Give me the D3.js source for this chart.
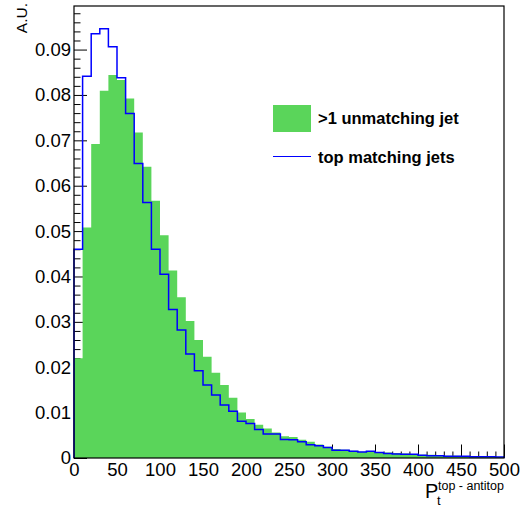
<!DOCTYPE html>
<html>
<head>
<meta charset="utf-8">
<script src="https://cdn.jsdelivr.net/npm/d3@7"></script>
<style>
  html, body { margin: 0; padding: 0; background: #fff; }
  svg { display: block; }
  text { font-family: "Liberation Sans", Arial, Helvetica, sans-serif; fill: #000; }
</style>
</head>
<body>
<svg id="chart" width="520" height="508"></svg>
<script>
// ---- data ----
const binEdges = d3.range(0, 501, 10); // 0..500, 50 bins of width 10

const unmatchingJet = [
  0.0220, 0.0508, 0.0692, 0.0809, 0.0844, 0.0833, 0.0792, 0.0717, 0.0642, 0.0567,
  0.0491, 0.0413, 0.0354, 0.0302, 0.0260, 0.0223, 0.0188, 0.0161, 0.0133, 0.0100,
  0.0086, 0.0073, 0.0065, 0.0056, 0.0048, 0.0046, 0.0040, 0.0036, 0.0030, 0.0025,
  0.0020, 0.0018, 0.0016, 0.0014, 0.0013, 0.0013, 0.0012, 0.0011, 0.0010, 0.0009,
  0.0007, 0.0007, 0.0006, 0.0005, 0.0005, 0.0004, 0.0004, 0.0003, 0.0003, 0.0003
];

const topMatching = [
  0.0460, 0.0841, 0.0935, 0.0946, 0.0906, 0.0838, 0.0759, 0.0649, 0.0563, 0.0460,
  0.0405, 0.0327, 0.0282, 0.0229, 0.0192, 0.0161, 0.0139, 0.0117, 0.0103, 0.0081,
  0.0076, 0.0063, 0.0053, 0.0053, 0.0041, 0.0040, 0.0036, 0.0029, 0.0027, 0.0023,
  0.0017, 0.0017, 0.0015, 0.0013, 0.0015, 0.0012, 0.0010, 0.0009, 0.0008, 0.0008,
  0.0006, 0.0005, 0.0005, 0.0004, 0.0004, 0.0004, 0.0003, 0.0003, 0.0003, 0.0002
];

const yMajorTicks = [0, 0.01, 0.02, 0.03, 0.04, 0.05, 0.06, 0.07, 0.08, 0.09];
const yTickLabels = ["0", "0.01", "0.02", "0.03", "0.04", "0.05", "0.06", "0.07", "0.08", "0.09"];
const xMajorTicks = [0, 50, 100, 150, 200, 250, 300, 350, 400, 450, 500];
const xTickLabels = ["0", "50", "100", "150", "200", "250", "300", "350", "400", "450", "500"];

const legendLabels = [">1 unmatching jet", "top matching jets"];
const yTitle = "A.U.";
const xTitleMain = "P", xTitleSub = "t", xTitleSup = "top - antitop";

// ---- layout ----
const mLeft = 74, mRight = 504, mTop = 6, mBottom = 458;
const greenFill = "#5ad55a";
const blueLine = "#0000ff";

const svg = d3.select("#chart");
const x = d3.scaleLinear().domain([0, 500]).range([mLeft, mRight]);
const y = d3.scaleLinear().domain([0, 0.0996]).range([mBottom, mTop]);

const yMinor = d3.range(0, 0.0995, 0.002).filter(v => !yMajorTicks.some(m => Math.abs(m - v) < 1e-9));
const xMinor = d3.range(0, 501, 10).filter(v => v % 50 !== 0);

function tickLines(g) {
  g.select(".domain").remove();
  g.selectAll(".tick line").attr("stroke", "#000").attr("stroke-width", 1);
}

// ---- tick marks (beneath histograms, pointing inward) ----
svg.append("g").attr("transform", `translate(${mLeft},0)`)
  .call(d3.axisLeft(y).tickValues(yMinor).tickSize(-6.5).tickFormat("")).call(tickLines);
svg.append("g").attr("transform", `translate(${mLeft},0)`)
  .call(d3.axisLeft(y).tickValues(yMajorTicks).tickSize(-13).tickFormat("")).call(tickLines);
svg.append("g").attr("transform", `translate(0,${mBottom})`)
  .call(d3.axisBottom(x).tickValues(xMinor).tickSize(-6.5).tickFormat("")).call(tickLines);
svg.append("g").attr("transform", `translate(0,${mBottom})`)
  .call(d3.axisBottom(x).tickValues(xMajorTicks).tickSize(-13.5).tickFormat("")).call(tickLines);

// ---- histograms ----
const greenPts = unmatchingJet.map((v, i) => ({ x: binEdges[i], v }));
greenPts.push({ x: 500, v: unmatchingJet[unmatchingJet.length - 1] });
const area = d3.area().curve(d3.curveStepAfter)
  .x(d => x(d.x)).y0(y(0)).y1(d => y(d.v));
svg.append("path").datum(greenPts).attr("d", area)
  .attr("fill", greenFill).attr("stroke", "none");

const bluePts = [{ x: 0, v: 0 }].concat(topMatching.map((v, i) => ({ x: binEdges[i], v })));
bluePts.push({ x: 500, v: topMatching[topMatching.length - 1] });
bluePts.push({ x: 500, v: 0 });
const line = d3.line().curve(d3.curveStepAfter).x(d => x(d.x)).y(d => y(d.v));
svg.append("path").datum(bluePts).attr("d", line)
  .attr("fill", "none").attr("stroke", blueLine).attr("stroke-width", 1.5);

// ---- frame ----
svg.append("rect")
  .attr("x", mLeft).attr("y", mTop).attr("width", mRight - mLeft).attr("height", mBottom - mTop)
  .attr("fill", "none").attr("stroke", "#000").attr("stroke-width", 1.2);

// ---- tick labels ----
const yLab = svg.append("g").attr("transform", `translate(${mLeft},0)`)
  .call(d3.axisLeft(y).tickValues(yMajorTicks).tickSize(0).tickPadding(3)
        .tickFormat((d, i) => yTickLabels[i]));
yLab.select(".domain").remove();
yLab.selectAll(".tick line").remove();
yLab.selectAll(".tick text").attr("font-size", 18.5)
  .attr("font-family", "Liberation Sans, Arial, sans-serif").attr("fill", "#000");

const xLab = svg.append("g").attr("transform", `translate(0,${mBottom})`)
  .call(d3.axisBottom(x).tickValues(xMajorTicks).tickSize(0).tickPadding(5)
        .tickFormat((d, i) => xTickLabels[i]));
xLab.select(".domain").remove();
xLab.selectAll(".tick line").remove();
xLab.selectAll(".tick text").attr("font-size", 18.5)
  .attr("font-family", "Liberation Sans, Arial, sans-serif").attr("fill", "#000");

// ---- axis titles ----
svg.append("text")
  .attr("transform", "translate(27,3) rotate(-90)")
  .attr("text-anchor", "end").attr("font-size", 15.5).text(yTitle);

svg.append("text").attr("x", 425).attr("y", 498).attr("font-size", 20).text(xTitleMain);
svg.append("text").attr("x", 437).attr("y", 505).attr("font-size", 13).text(xTitleSub);
svg.append("text").attr("x", 504).attr("y", 489.5).attr("text-anchor", "end")
  .attr("font-size", 12.5).text(xTitleSup);

// ---- legend ----
const lg = svg.append("g");
lg.append("rect").attr("x", 273).attr("y", 105).attr("width", 38).attr("height", 27)
  .attr("fill", greenFill);
lg.append("line").attr("x1", 273).attr("x2", 311).attr("y1", 156.5).attr("y2", 156.5)
  .attr("stroke", blueLine).attr("stroke-width", 1);
lg.append("text").attr("x", 318).attr("y", 124).attr("font-size", 16.5)
  .attr("font-weight", "bold").text(legendLabels[0]);
lg.append("text").attr("x", 318).attr("y", 163).attr("font-size", 16.5)
  .attr("font-weight", "bold").text(legendLabels[1]);
</script>
</body>
</html>
